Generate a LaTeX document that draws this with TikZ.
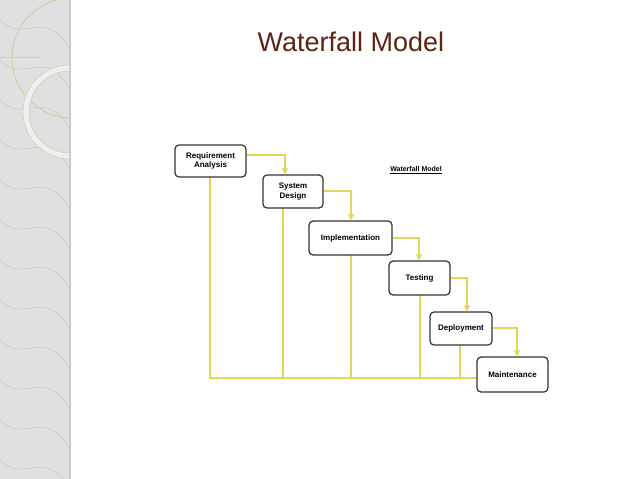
\documentclass[tikz,border=0pt]{standalone}
\usepackage{fontspec}
\setmainfont{Liberation Sans}
\usetikzlibrary{arrows.meta}
\definecolor{gold}{RGB}{215,205,170}
\definecolor{flowc}{RGB}{225,215,90}
\definecolor{titlec}{RGB}{95,35,20}
\begin{document}
\begin{tikzpicture}[x=1pt,y=-1pt,
  stage/.style={draw=black!80,line width=1.2pt,rounded corners=4pt,fill=white,font=\bfseries\fontsize{8}{9.5}\selectfont,align=center,inner sep=0pt},
  flow/.style={draw=flowc,line width=1.8pt},
  arr/.style={flow,-{Triangle[length=6pt,width=6pt,fill=flowc]}}]
\useasboundingbox (0,0) rectangle (638,479);
\fill[white] (0,0) rectangle (638,479);
% marble strip
\fill[black!12] (0,0) rectangle (70,479);
\begin{scope}
\clip (0,0) rectangle (70,479);
\foreach \y in {20,60,...,460}{\draw[black!22,line width=0.5pt] (0,\y) .. controls (25,\y+25) and (45,\y-15) .. (70,\y+30);}
\draw[gold,line width=1pt] (72,58) circle (60);
\draw[black!6,line width=6pt] (70,112) circle (44);
\draw[gold,line width=0.6pt] (70,112) circle (47) (70,112) circle (41);
\draw[gold,line width=0.6pt] (0,57) -- (40,57);
\end{scope}
\draw[black!20,line width=1.2pt] (70,0) -- (70,479);
\node[font=\fontsize{27}{30}\selectfont,text=titlec] (title) at (351,42) {Waterfall Model};
\node[font=\bfseries\fontsize{7}{8}\selectfont] (lab) at (416,170) {\underline{Waterfall Model}};
\draw[flow] (210,177) -- (210,378) -- (477,378);
\draw[flow] (283,208) -- (283,378);
\draw[flow] (351,255) -- (351,378);
\draw[flow] (420,295) -- (420,378);
\draw[flow] (460,345) -- (460,378);
\node[stage,minimum width=71pt,minimum height=32pt] (r) at (210.5,161) {Requirement\\Analysis};
\node[stage,minimum width=60pt,minimum height=33pt] (s) at (293,191.5) {System\\Design};
\node[stage,minimum width=83pt,minimum height=34pt] (i) at (350.5,238) {Implementation};
\node[stage,minimum width=61pt,minimum height=34pt] (t) at (419.5,278) {Testing};
\node[stage,minimum width=62pt,minimum height=33pt] (d) at (461,328.5) {Deployment};
\node[stage,minimum width=71pt,minimum height=35pt] (m) at (512.5,374.5) {Maintenance};
\draw[arr] (r.east |- 0,155) -| (s.north -| 285,0);
\draw[arr] (s.east |- 0,191) -| (i.north -| 351,0);
\draw[arr] (i.east) -| (t.north -| 419,0);
\draw[arr] (t.east) -| (d.north -| 467,0);
\draw[arr] (d.east |- 0,328) -| (m.north -| 517,0);
\end{tikzpicture}
\end{document}
